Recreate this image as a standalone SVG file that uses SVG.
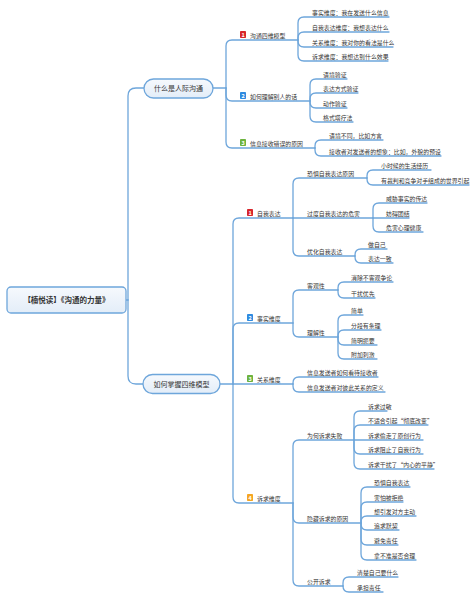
<svg xmlns="http://www.w3.org/2000/svg" width="476" height="600" viewBox="0 0 476 600">
<defs>
<linearGradient id="nodeFill" x1="0" y1="0" x2="0" y2="1">
<stop offset="0" stop-color="#f6f9fd"/>
<stop offset="1" stop-color="#e3edf8"/>
</linearGradient>
</defs>
<style>
text{font-family:"Noto Sans CJK SC","Noto Sans",sans-serif;fill:#333}
.t{font-size:5.9px}
.m{font-size:7px;text-anchor:middle}
.r{font-size:7.5px;font-weight:bold;text-anchor:middle}
.box{fill:url(#nodeFill);stroke:#6ea6db;stroke-width:1.3}
.ic{font-size:5.5px;font-weight:bold;fill:#fff;text-anchor:middle}
#connectors path{fill:none;stroke:#6ea6db;stroke-width:1.3;stroke-linecap:round}
</style>
<rect width="476" height="600" fill="#fff"/>
<g id="connectors">
<path d="M126,300 H128"/>
<path d="M128,300 V96 Q128,88 136,88 H144"/>
<path d="M128,300 V376 Q128,384 136,384 H143"/>
<path d="M213,88 H226"/>
<path d="M226,88 V46 Q226,40 232,40 H298"/>
<path d="M226,88 V95 Q226,101 232,101 H310"/>
<path d="M226,88 V142 Q226,148 232,148 H315"/>
<path d="M298,40 V23 Q298,17 304,17 H389"/>
<path d="M298,40 V38 Q298,32 304,32 H389"/>
<path d="M298,40 V41 Q298,47 304,47 H393"/>
<path d="M298,40 V55 Q298,61 304,61 H388"/>
<path d="M310,101 V85 Q310,79 316,79 H347"/>
<path d="M310,101 V99 Q310,93 316,93 H358"/>
<path d="M310,101 V102 Q310,108 316,108 H347"/>
<path d="M310,101 V116 Q310,122 316,122 H353"/>
<path d="M315,148 V146 Q315,140 321,140 H383"/>
<path d="M315,148 V150 Q315,156 321,156 H441"/>
<path d="M220,384 H233"/>
<path d="M233,384 V224 Q233,218 239,218 H293"/>
<path d="M233,384 V329 Q233,323 239,323 H293"/>
<path d="M233,384 H293"/>
<path d="M233,384 V497 Q233,503 239,503 H293"/>
<path d="M293,218 V184 Q293,178 299,178 H367"/>
<path d="M293,218 H373"/>
<path d="M293,218 V250 Q293,256 299,256 H355"/>
<path d="M367,178 V176 Q367,170 373,170 H431"/>
<path d="M367,178 V179 Q367,185 373,185 H469"/>
<path d="M373,218 V209 Q373,203 379,203 H427"/>
<path d="M373,218 H409"/>
<path d="M373,218 V226 Q373,232 379,232 H423"/>
<path d="M355,256 V255 Q355,249 361,249 H387"/>
<path d="M355,256 V257 Q355,263 361,263 H393"/>
<path d="M293,323 V296 Q293,290 299,290 H338"/>
<path d="M293,323 V331 Q293,337 299,337 H338"/>
<path d="M338,290 V288 Q338,282 344,282 H393"/>
<path d="M338,290 V292 Q338,298 344,298 H375"/>
<path d="M338,337 V321 Q338,315 344,315 H363"/>
<path d="M338,337 V336 Q338,330 344,330 H381"/>
<path d="M338,337 V339 Q338,345 344,345 H377"/>
<path d="M338,337 V353 Q338,359 344,359 H377"/>
<path d="M293,384 V383 Q293,377 299,377 H378"/>
<path d="M293,384 V386 Q293,392 299,392 H385"/>
<path d="M293,503 V446 Q293,440 299,440 H354"/>
<path d="M293,503 V517 Q293,523 299,523 H361"/>
<path d="M293,503 V580 Q293,586 299,586 H343"/>
<path d="M354,440 V417 Q354,411 360,411 H387"/>
<path d="M354,440 V431 Q354,425 360,425 H428"/>
<path d="M354,440 H423"/>
<path d="M354,440 V448 Q354,454 360,454 H423"/>
<path d="M354,440 V463 Q354,469 360,469 H434"/>
<path d="M361,523 V493 Q361,487 367,487 H410"/>
<path d="M361,523 V508 Q361,502 367,502 H403"/>
<path d="M361,523 V522 Q361,516 367,516 H416"/>
<path d="M361,523 V524 Q361,530 367,530 H399"/>
<path d="M361,523 V539 Q361,545 367,545 H398"/>
<path d="M361,523 V554 Q361,560 367,560 H416"/>
<path d="M343,586 V583 Q343,577 349,577 H398"/>
<path d="M343,586 V586 Q343,592 349,592 H383"/>
</g>
<g id="root"><rect class="box" x="7" y="287" width="119" height="26" rx="4"/><text class="r" x="66.5" y="302.6">【楠悦读】《沟通的力量》</text></g>
<g id="n1"><rect class="box" x="144" y="79" width="69" height="19" rx="9.5"/><text class="m" x="178.5" y="90.6">什么是人际沟通</text></g>
<g id="n2"><rect class="box" x="143" y="374.5" width="77" height="19" rx="9.5"/><text class="m" x="181.5" y="386.6">如何掌握四维模型</text></g>
<g id="b1-1"><rect x="240" y="31" width="6" height="7" rx="0.8" fill="#d7262c"/><text class="ic" x="243" y="36.9">1</text><text class="t" x="250" y="38">沟通四维模型</text></g>
<g id="b1-2"><rect x="240" y="92" width="6" height="7" rx="0.8" fill="#2f8be0"/><text class="ic" x="243" y="97.9">2</text><text class="t" x="250" y="99">如何理解别人的话</text></g>
<g id="b1-3"><rect x="240" y="139" width="6" height="7" rx="0.8" fill="#6db33f"/><text class="ic" x="243" y="144.9">3</text><text class="t" x="250" y="146">信息接收错误的原因</text></g>
<g id="c1-1"><text class="t" x="312" y="15">事实维度：我在发送什么信息</text><text class="t" x="312" y="30">自我表达维度：我想表达什么</text><text class="t" x="312" y="45">关系维度：我对你的看法是什么</text><text class="t" x="312" y="59">诉求维度：我想达到什么效果</text></g>
<g id="c1-2"><text class="t" x="323" y="77">语境验证</text><text class="t" x="323" y="91">表达方式验证</text><text class="t" x="323" y="106">动作验证</text><text class="t" x="323" y="120">格式塔疗法</text></g>
<g id="c1-3"><text class="t" x="329" y="138">语境不同，比如方言</text><text class="t" x="329" y="154">接收者对发送者的想象：比如，外貌的预设</text></g>
<g id="b2-1"><rect x="247" y="209" width="6" height="7" rx="0.8" fill="#d7262c"/><text class="ic" x="250" y="214.9">1</text><text class="t" x="257" y="216">自我表达</text></g>
<g id="b2-2"><rect x="247" y="314" width="6" height="7" rx="0.8" fill="#2f8be0"/><text class="ic" x="250" y="319.9">2</text><text class="t" x="257" y="321">事实维度</text></g>
<g id="b2-3"><rect x="247" y="375" width="6" height="7" rx="0.8" fill="#6db33f"/><text class="ic" x="250" y="380.9">3</text><text class="t" x="257" y="382">关系维度</text></g>
<g id="b2-4"><rect x="247" y="494" width="6" height="7" rx="0.8" fill="#f5a623"/><text class="ic" x="250" y="499.9">4</text><text class="t" x="257" y="501">诉求维度</text></g>
<g id="s-fear"><text class="t" x="307" y="176">恐惧自我表达原因</text><text class="t" x="381" y="168">小时候的生活经历</text><text class="t" x="381" y="183">有裁判和竞争对手组成的世界引起</text></g>
<g id="s-over"><text class="t" x="307" y="216">过度自我表达的危害</text><text class="t" x="386" y="201">威胁事实的传达</text><text class="t" x="386" y="216">妨碍团结</text><text class="t" x="386" y="230">危害心理健康</text></g>
<g id="s-opt"><text class="t" x="307" y="254">优化自我表达</text><text class="t" x="368" y="247">做自己</text><text class="t" x="368" y="261">表达一致</text></g>
<g id="s-obj"><text class="t" x="307" y="288">客观性</text><text class="t" x="351" y="280">消除不客观争论</text><text class="t" x="351" y="296">干扰优先</text></g>
<g id="s-und"><text class="t" x="307" y="335">理解性</text><text class="t" x="351" y="313">简单</text><text class="t" x="351" y="328">分段有条理</text><text class="t" x="351" y="343">简明扼要</text><text class="t" x="351" y="357">附加刺激</text></g>
<g id="s-rel"><text class="t" x="307" y="375">信息发送者如何看待接收者</text><text class="t" x="307" y="390">信息发送者对彼此关系的定义</text></g>
<g id="s-fail"><text class="t" x="307" y="438">为何诉求失败</text><text class="t" x="368" y="409">诉求过敏</text><text class="t" x="368" y="423">不适合引起“彻底改变”</text><text class="t" x="368" y="438">诉求偷走了原创行为</text><text class="t" x="368" y="452">诉求阻止了自我行为</text><text class="t" x="368" y="467">诉求干扰了“内心的平静”</text></g>
<g id="s-hide"><text class="t" x="307" y="521">隐藏诉求的原因</text><text class="t" x="374" y="485">恐惧自我表达</text><text class="t" x="374" y="500">害怕被拒绝</text><text class="t" x="374" y="514">想引发对方主动</text><text class="t" x="374" y="528">追求默契</text><text class="t" x="374" y="543">避免责任</text><text class="t" x="374" y="558">拿不准是否合理</text></g>
<g id="s-open"><text class="t" x="307" y="584">公开诉求</text><text class="t" x="357" y="575">清楚自己要什么</text><text class="t" x="357" y="590">承担责任</text></g>
</svg>
